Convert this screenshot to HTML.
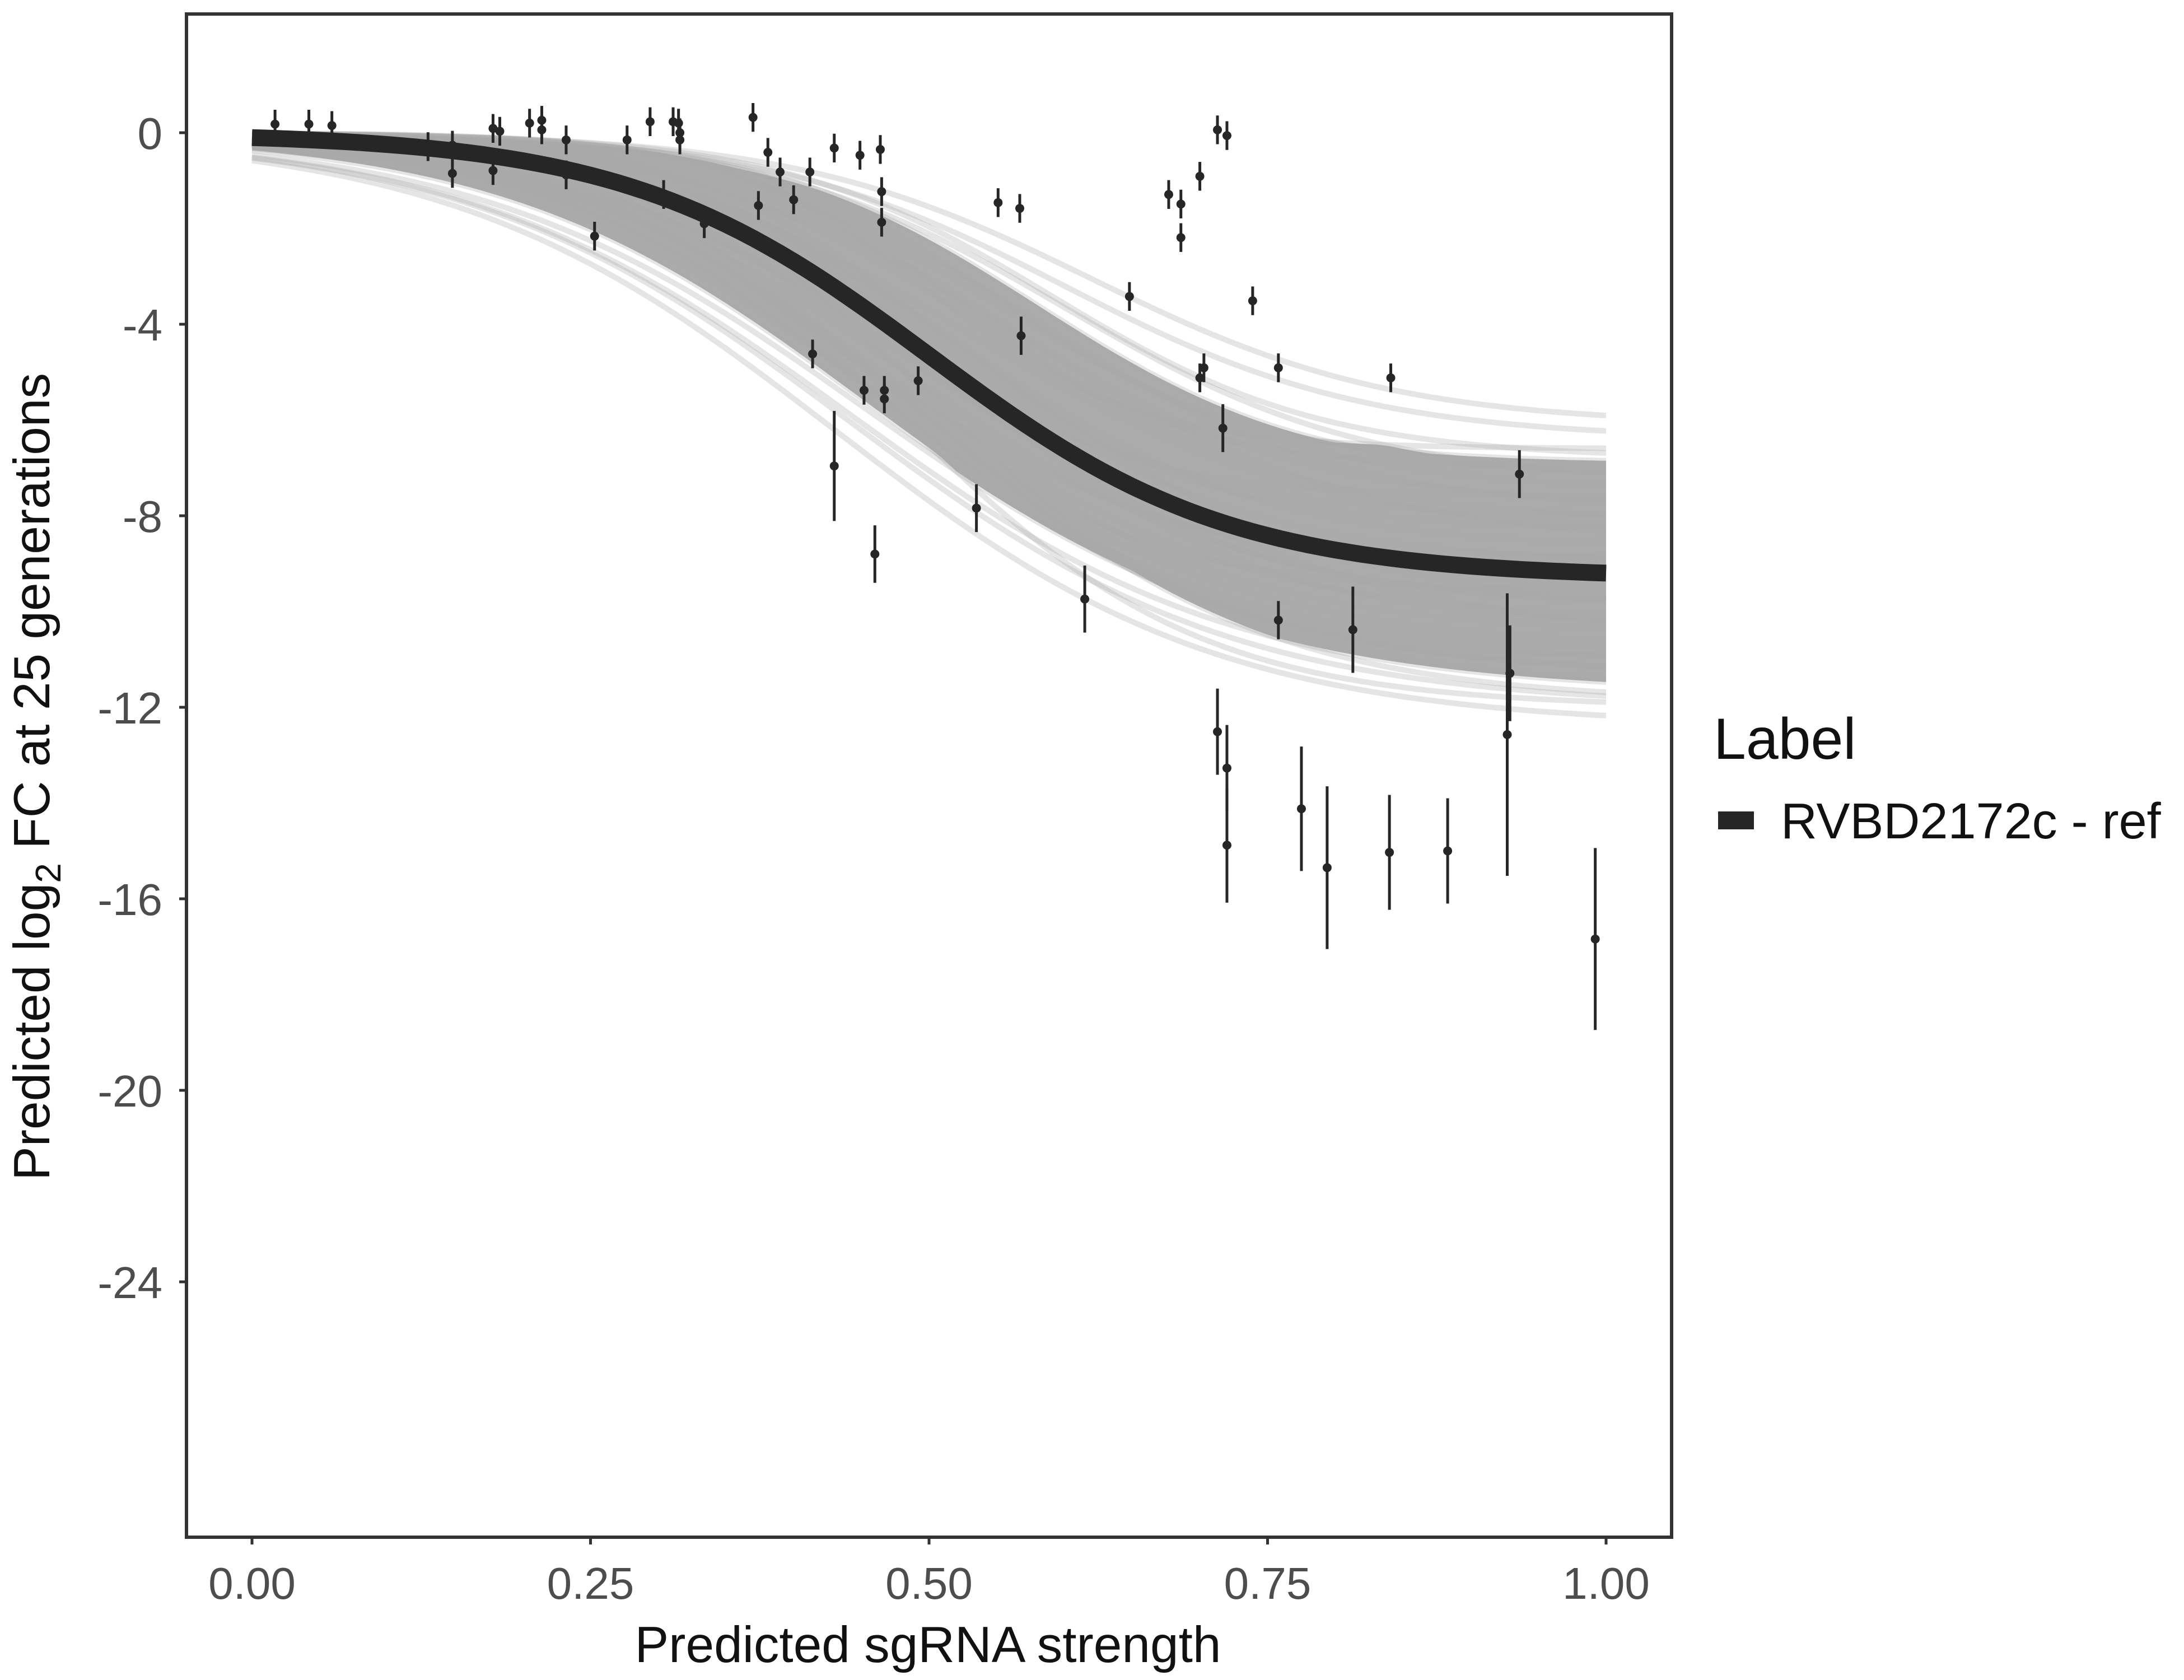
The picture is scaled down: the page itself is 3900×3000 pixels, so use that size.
<!DOCTYPE html>
<html><head><meta charset="utf-8"><style>
html,body{margin:0;padding:0;background:#fff;}
svg{display:block;font-family:"Liberation Sans",sans-serif;}
</style></head><body>
<svg id="chart" width="3900" height="3000" xmlns="http://www.w3.org/2000/svg">
<rect x="0" y="0" width="3900" height="3000" fill="#fff"/>
<g id="band"></g>
<g id="fit"></g>
<g id="pts"></g>
<rect x="333" y="25" width="2652" height="2720" fill="none" stroke="#333" stroke-width="6"/>
<g id="yaxis"></g>
<g id="xaxis"></g>
<text x="1657" y="2968" font-size="91" text-anchor="middle" fill="#111">Predicted sgRNA strength</text>
<text transform="translate(88,1387) rotate(-90)" font-size="91" text-anchor="middle" fill="#111">Predicted  log<tspan font-size="64" dy="20">2</tspan><tspan dy="-20"> FC at 25 generations</tspan></text>
<g>
<text x="3060" y="1355" font-size="104" fill="#111">Label</text>
<rect x="3068" y="1449" width="64" height="32" fill="#262626"/>
<text x="3180" y="1497" font-size="90" fill="#111">RVBD2172c - ref</text>
</g>
</svg>
<script>
const xVals=[0.017,0.042,0.059,0.130,0.148,0.148,0.178,0.178,0.183,0.205,0.214,0.214,0.232,0.232,0.253,0.277,0.294,0.304,0.311,0.315,0.316,0.316,0.334,0.370,0.374,0.381,0.390,0.400,0.412,0.414,0.430,0.430,0.449,0.452,0.460,0.464,0.465,0.465,0.467,0.467,0.492,0.535,0.551,0.567,0.568,0.615,0.648,0.677,0.686,0.686,0.700,0.700,0.703,0.713,0.717,0.720,0.739,0.758,0.758,0.813,0.713,0.720,0.720,0.775,0.794,0.841,0.840,0.883,0.927,0.929,0.936,0.992];
const yVals=[0.18,0.18,0.15,-0.29,-0.26,-0.85,0.09,-0.79,0.03,0.2,0.26,0.06,-0.15,-0.88,-2.16,-0.15,0.23,-1.29,0.23,0.2,0,-0.15,-1.9,0.32,-1.52,-0.41,-0.82,-1.4,-0.82,-4.62,-0.32,-6.96,-0.47,-5.38,-8.8,-0.35,-1.23,-1.87,-5.38,-5.56,-5.18,-7.84,-1.46,-1.58,-4.24,-9.74,-3.42,-1.29,-1.49,-2.19,-0.91,-5.12,-4.91,0.06,-6.17,-0.06,-3.51,-4.91,-10.18,-10.38,-12.51,-13.27,-14.88,-14.12,-15.35,-5.12,-15.03,-15.0,-12.57,-11.29,-7.13,-16.84];
const yErr=[0.3,0.3,0.3,0.3,0.3,0.3,0.3,0.3,0.3,0.3,0.3,0.3,0.3,0.3,0.3,0.3,0.3,0.3,0.3,0.3,0.3,0.3,0.3,0.3,0.3,0.3,0.3,0.3,0.3,0.3,0.3,1.15,0.3,0.3,0.6,0.3,0.3,0.3,0.3,0.3,0.3,0.5,0.3,0.3,0.4,0.7,0.3,0.3,0.3,0.3,0.3,0.3,0.3,0.3,0.5,0.3,0.3,0.3,0.4,0.9,0.9,0.9,1.2,1.3,1.7,0.3,1.2,1.1,2.95,1.0,0.5,1.9];
const fitParams=[-9.3,0.5,9];
const drawAsym=[-6.1,-6.4,-6.8,-7.2,-7.5,-7.8,-8.1,-8.4,-8.7,-9.0,-9.3,-9.6,-9.9,-10.2,-10.5,-10.8,-11.1,-11.4,-11.7,-12.0,-12.4,-7.0,-8.0,-9.0,-10.0,-11.0,-12.0,-6.6,-7.6,-8.6,-9.6,-10.6,-11.6,-7.3,-8.3,-9.3,-10.3,-11.3,-6.9,-7.9,-8.9,-9.9,-10.9,-11.9];
const drawMid=[0.62,0.6,0.59,0.58,0.56,0.55,0.54,0.53,0.52,0.51,0.5,0.49,0.48,0.47,0.47,0.46,0.45,0.45,0.44,0.44,0.43,0.52,0.5,0.46,0.55,0.5,0.48,0.5,0.47,0.57,0.45,0.53,0.49,0.6,0.5,0.44,0.52,0.47,0.55,0.58,0.48,0.51,0.46,0.5];
const drawK=[9,9,10,10,9,9,9,8,9,9,9,8,8,8,8,7.5,7.5,7,7,7,7,12,11,10,8,10,9,13,12,8,10,7,8,9,10,8,9,8,11,9,10,9,8,8];
const yTicks=[0,-4,-8,-12,-16,-20,-24];
const xTicks=[0,0.25,0.5,0.75,1];
const xTickLabels=["0.00","0.25","0.50","0.75","1.00"];

const NS="http://www.w3.org/2000/svg";
const X=v=>450+v*2418;
const Y=v=>237-v*85.5;
const sig=(x,p)=>p[0]/(1+Math.exp(-p[2]*(x-p[1])));
function mk(tag,attrs,parent){const e=document.createElementNS(NS,tag);for(const k in attrs)e.setAttribute(k,attrs[k]);parent.appendChild(e);return e;}
function curvePts(p){let s=[];for(let i=0;i<=100;i++){const x=i/100;s.push(X(x).toFixed(1)+","+Y(sig(x,p)).toFixed(1));}return s;}

const band=document.getElementById('band');
const upper=[],lower=[];
for(let i=0;i<=100;i++){const x=i/100;let vs=drawAsym.map((a,j)=>sig(x,[a,drawMid[j],drawK[j]]));vs.sort((a,b)=>a-b);
 lower.push(X(x).toFixed(1)+","+Y(vs[4]).toFixed(1));upper.push(X(x).toFixed(1)+","+Y(vs[vs.length-5]).toFixed(1));}
const poly=mk('polygon',{points:upper.concat(lower.reverse()).join(' '),fill:'#ababab'},band);


drawAsym.forEach((a,j)=>{const l=mk('polyline',{points:curvePts([a,drawMid[j],drawK[j]]).join(' '),fill:'none',stroke:'#aaa','stroke-opacity':0.3,'stroke-width':10},band);
 
 });

const fit=document.getElementById('fit');
const fl=mk('polyline',{points:curvePts(fitParams).join(' '),fill:'none',stroke:'#262626','stroke-width':30},fit);



const pts=document.getElementById('pts');
xVals.forEach((x,i)=>{
 const l=mk('line',{x1:X(x),x2:X(x),y1:Y(yVals[i]+yErr[i]),y2:Y(yVals[i]-yErr[i]),stroke:'#262626','stroke-width':5},pts);
 
 
 const c=mk('circle',{cx:X(x),cy:Y(yVals[i]),r:8,fill:'#262626'},pts);
 
 
});

const ya=document.getElementById('yaxis');
yTicks.forEach(t=>{
 const l=mk('line',{x1:320,x2:333,y1:Y(t),y2:Y(t),stroke:'#333','stroke-width':5},ya);
 
 
 const tx=mk('text',{x:290,y:Y(t)+29,'font-size':80,'text-anchor':'end',fill:'#4d4d4d'},ya);
 tx.textContent=String(t);
 
 
});
const xa=document.getElementById('xaxis');
xTicks.forEach((t,i)=>{
 const l=mk('line',{x1:X(t),x2:X(t),y1:2745,y2:2758,stroke:'#333','stroke-width':5},xa);
 
 
 const tx=mk('text',{x:X(t),y:2855,'font-size':80,'text-anchor':'middle',fill:'#4d4d4d'},xa);
 tx.textContent=xTickLabels[i];
 
 
});
</script>
</body></html>
